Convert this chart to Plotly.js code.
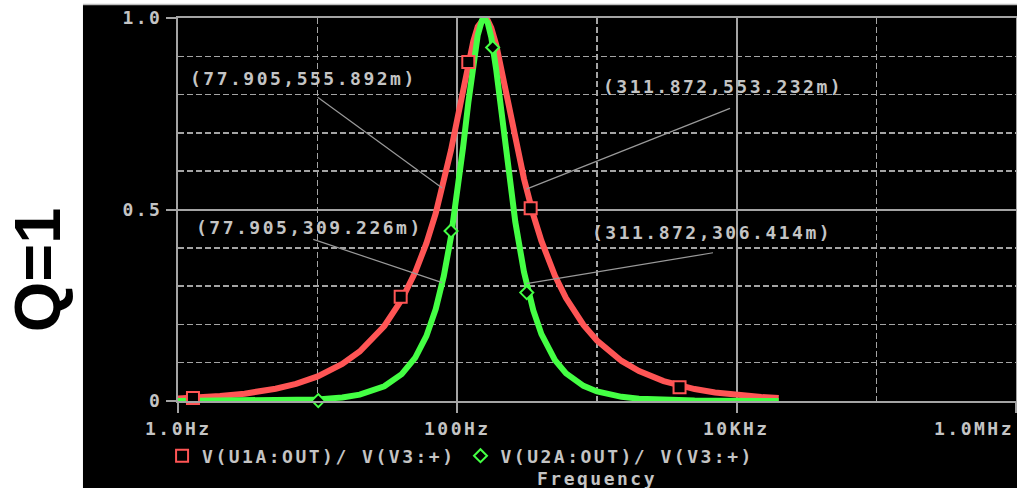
<!DOCTYPE html>
<html>
<head>
<meta charset="utf-8">
<script src="https://cdn.plot.ly/plotly-3.0.1.min.js"></script>
<style>
  html, body { margin: 0; padding: 0; background: #ffffff; }
  #chart { width: 1017px; height: 488px; }
  text[style*="DejaVu Sans Mono"] { letter-spacing: 2.5px; }
</style>
</head>
<body>
<div id="chart"></div>
<script>
// ---- data ----
const freq = [1, 1.5, 2, 3, 5, 7, 10, 15, 20, 30, 40, 50, 60, 70, 80, 90,
  100, 110, 120, 130, 140, 150, 156, 165, 175, 190, 210, 230, 260, 300, 350,
  400, 500, 600, 800, 1000, 1500, 2000, 3000, 5000, 7000, 10000, 15000, 20000];
const redGain = [0.0064, 0.0096, 0.0128, 0.0192, 0.0321, 0.0449, 0.0642, 0.0966,
  0.1292, 0.1958, 0.2647, 0.3364, 0.4114, 0.4898, 0.5711, 0.6541, 0.7363, 0.8142,
  0.8833, 0.9389, 0.9773, 0.9969, 1.0, 0.9938, 0.9745, 0.9295, 0.8562, 0.7823,
  0.6839, 0.5804, 0.4861, 0.4179, 0.3267, 0.2686, 0.1987, 0.1579, 0.1046, 0.0782,
  0.0521, 0.0312, 0.0223, 0.0156, 0.0104, 0.0078];
const greenGain = [0.0000, 0.0001, 0.0002, 0.0004, 0.0010, 0.0020, 0.0041, 0.0093,
  0.0167, 0.0384, 0.0701, 0.1132, 0.1693, 0.2399, 0.3262, 0.4279, 0.5421, 0.6629,
  0.7802, 0.8815, 0.9551, 0.9939, 1.0, 0.9876, 0.9496, 0.8640, 0.7331, 0.6120,
  0.4678, 0.3368, 0.2363, 0.1746, 0.1067, 0.0721, 0.0395, 0.0249, 0.0109, 0.0061,
  0.0027, 0.0010, 0.0005, 0.0002, 0.0001, 0.0001];

const redMarkFreq = [1.28, 39.3, 119.8, 335, 3900];
const redMarkVal = [0.008, 0.272, 0.885, 0.503, 0.036];
const greenMarkFreq = [10.1, 90.1, 179, 314];
const greenMarkVal = [0.001, 0.444, 0.923, 0.283];

const cursorFreq = [77.905, 311.872];
const cursorRed = [0.555892, 0.553232];
const cursorGreen = [0.309226, 0.306414];

const seriesNames = ['V(U1A:OUT)/ V(V3:+)', 'V(U2A:OUT)/ V(V3:+)'];
const xTickVals = [1, 100, 10000, 1000000];
const xTickText = ['1.0Hz', '100Hz', '10KHz', '1.0MHz'];
const xMinorVals = [10, 1000, 100000];
const yTickVals = [0, 0.5, 1];
const yTickText = ['0', '0.5', '1.0'];
const yMinorVals = [0.1, 0.2, 0.3, 0.4, 0.6, 0.7, 0.8, 0.9];

// ---- styling ----
const MONO = 'DejaVu Sans Mono';
const TXT = '#c4c4c4';
const GRID = '#a4a4a4';
const RED = '#ff5555';
const GREEN = '#44ff44';
const monoFont = {family: MONO, size: 18, color: TXT, weight: 'bold'};

const traces = [
  {x: freq, y: redGain, mode: 'lines', line: {color: RED, width: 6}, showlegend: false, cliponaxis: false, hoverinfo: 'skip'},
  {x: freq, y: greenGain, mode: 'lines', line: {color: GREEN, width: 6}, showlegend: false, cliponaxis: false, hoverinfo: 'skip'},
  {x: redMarkFreq, y: redMarkVal, mode: 'markers', name: seriesNames[0], cliponaxis: false,
   marker: {symbol: 'square', size: 12, color: '#000000', line: {color: RED, width: 2}}},
  {x: greenMarkFreq, y: greenMarkVal, mode: 'markers', name: seriesNames[1], cliponaxis: false,
   marker: {symbol: 'diamond', size: 10, color: '#000000', line: {color: GREEN, width: 2}}}
];

function mlabel(v) { return (v * 1000).toFixed(3) + 'm'; }

const annotations = [];
// x tick labels
xTickVals.forEach((v, i) => {
  const last = i === xTickVals.length - 1;
  annotations.push({xref: 'x', yref: 'paper', x: Math.log10(v), y: -0.071,
    xanchor: last ? 'right' : 'center', yanchor: 'middle', showarrow: false,
    text: xTickText[i], font: monoFont});
});
// cursor labels
const labelPos = [
  {x: 0.895, y: 0.843}, {x: 0.945, y: 0.454},
  {x: 3.902, y: 0.822}, {x: 3.823, y: 0.441}
];
const labelText = [
  '(' + cursorFreq[0] + ',' + mlabel(cursorRed[0]) + ')',
  '(' + cursorFreq[0] + ',' + mlabel(cursorGreen[0]) + ')',
  '(' + cursorFreq[1] + ',' + mlabel(cursorRed[1]) + ')',
  '(' + cursorFreq[1] + ',' + mlabel(cursorGreen[1]) + ')'
];
labelText.forEach((t, i) => {
  annotations.push({xref: 'x', yref: 'y', x: labelPos[i].x, y: labelPos[i].y,
    xanchor: 'center', yanchor: 'middle', showarrow: false, text: t, font: monoFont});
});
// x axis title
annotations.push({xref: 'paper', yref: 'paper', x: 0.5, y: -0.2025, xanchor: 'center', yanchor: 'middle',
  showarrow: false, text: 'Frequency', font: monoFont});
// side label
annotations.push({xref: 'paper', yref: 'paper', x: -0.168, y: 0.342, textangle: -90,
  xanchor: 'center', yanchor: 'middle', showarrow: false, text: 'Q=1',
  font: {family: 'Liberation Sans', size: 65, color: '#000000'}});

const leaderTails = [
  {x: 10, y: 0.793}, {x: 9.3, y: 0.422}, {x: 8960, y: 0.764}, {x: 6770, y: 0.387}
];
const leaderHeads = [
  {x: cursorFreq[0], y: cursorRed[0]}, {x: cursorFreq[0], y: cursorGreen[0]},
  {x: cursorFreq[1], y: cursorRed[1]}, {x: cursorFreq[1], y: cursorGreen[1]}
];
const shapes = [
  {type: 'rect', xref: 'paper', yref: 'paper', x0: -0.1134, x1: 1.05, y0: -0.3, y1: 1.034,
   fillcolor: '#000000', line: {width: 0}, layer: 'below'},
  {type: 'line', xref: 'paper', yref: 'paper', x0: -0.1134, x1: 1.05, y0: 1.035, y1: 1.035,
   line: {color: '#bdbdbd', width: 1.5}, layer: 'below'}
];
leaderTails.forEach((t, i) => {
  shapes.push({type: 'line', xref: 'x', yref: 'y', x0: t.x, y0: t.y, x1: leaderHeads[i].x, y1: leaderHeads[i].y,
    line: {color: '#9a9a9a', width: 1.2}});
});

const layout = {
  width: 1017, height: 488,
  margin: {l: 178, r: 1, t: 18, b: 87, pad: 0},
  paper_bgcolor: '#ffffff', plot_bgcolor: '#000000',
  font: monoFont,
  showlegend: true,
  legend: {orientation: 'h', x: -0.019, y: -0.1436, xanchor: 'left', yanchor: 'middle',
    bgcolor: 'rgba(0,0,0,0)', font: monoFont, itemclick: false},
  xaxis: {
    type: 'log', range: [0, 6], tickvals: xTickVals, showticklabels: false,
    ticks: 'outside', ticklen: 10, tickwidth: 2, tickcolor: GRID,
    showgrid: true, gridcolor: GRID, gridwidth: 2,
    showline: true, linecolor: GRID, linewidth: 2, mirror: true, zeroline: false,
    minor: {tickvals: xMinorVals, showgrid: true, gridcolor: GRID, gridwidth: 1.5, griddash: '6px,3px', ticks: ''}
  },
  yaxis: {
    range: [0, 1], tickvals: yTickVals, ticktext: yTickText,
    ticks: 'outside', ticklen: 10, tickwidth: 2, tickcolor: GRID, tickfont: monoFont,
    showgrid: true, gridcolor: GRID, gridwidth: 2,
    showline: true, linecolor: GRID, linewidth: 2, mirror: true, zeroline: false,
    minor: {tickvals: yMinorVals, showgrid: true, gridcolor: GRID, gridwidth: 1.5, griddash: '6px,3px', ticks: ''}
  },
  annotations: annotations,
  shapes: shapes
};

Plotly.newPlot('chart', traces, layout, {displayModeBar: false, staticPlot: true});
</script>
</body>
</html>
